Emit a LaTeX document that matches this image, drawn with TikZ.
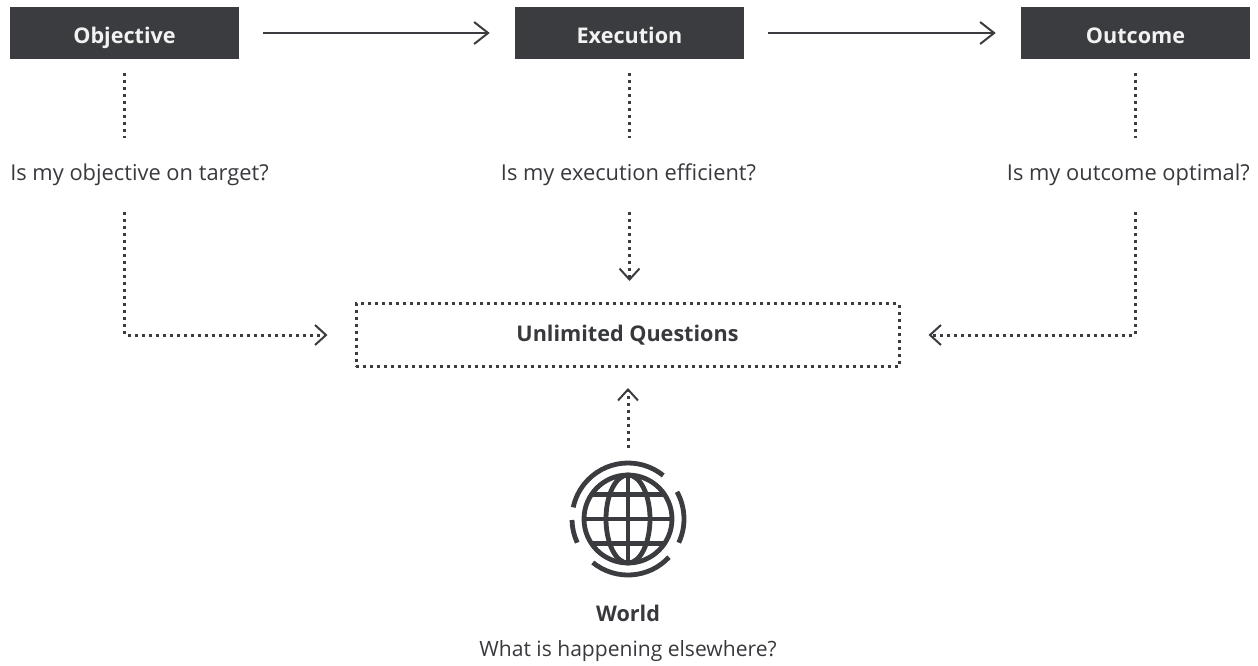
\documentclass[tikz,border=0pt]{standalone}
\usepackage{fontspec}
\setmainfont{Open Sans}
\usetikzlibrary{arrows.meta}
\definecolor{dk}{HTML}{3B3C40}
\definecolor{tx}{HTML}{38393D}
\definecolor{lt}{HTML}{F2F2F2}
\tikzset{
  lblfont/.style={font=\fontsize{16.2pt}{19pt}\selectfont\bfseries},
  darkbox/.style={lblfont, fill=dk, text=lt, minimum width=171.75pt, minimum height=39pt, inner sep=0pt, text height=15pt, text depth=0pt},
  qtext/.style={text=tx, font=\fontsize{16.4pt}{19pt}\selectfont, inner sep=0pt, anchor=base, text height=13.5pt, text depth=4.5pt},
  dots/.style={draw=dk, line width=2.25pt, dash pattern=on 2.25pt off 3pt},
  dotarrow/.style={dots, -{Straight Barb[length=8.25pt,width=15pt,line width=1.5pt]}},
  solidarrow/.style={draw=dk, line width=1.5pt, -{Straight Barb[length=10.5pt,width=16.5pt,line width=1.5pt]}},
  globe/.style={draw=dk, line width=3.6pt},
}
\begin{document}
\begin{tikzpicture}[x=0.75pt,y=-0.75pt]
\useasboundingbox (0,0) rectangle (1258,665);
% top boxes
\node[darkbox] (obj) at (124.5,33) {Objective};
\node[darkbox] (exe) at (629.5,33) {Execution};
\node[darkbox] (out) at (1135.5,33) {Outcome};
\draw[solidarrow, shorten <=18pt, shorten >=18.75pt] (obj) -- (exe);
\draw[solidarrow, shorten <=18pt, shorten >=18.75pt] (exe) -- (out);
% questions
\node[qtext, anchor=base west] (q1) at (10,180) {Is my objective on target?};
\node[qtext] (q2) at (628.5,180) {Is my execution efficient?};
\node[qtext, anchor=base east] (q3) at (1250,180) {Is my outcome optimal?};
\draw[dots, shorten <=10.5pt, shorten >=18pt] (obj.south) -- (obj.south |- q1.north);
\draw[dots, shorten <=10.5pt, shorten >=18pt] (exe.south) -- (exe.south |- q2.north);
\draw[dots, shorten <=10.5pt, shorten >=18pt] (out.south) -- (out.south |- q3.north);
% unlimited questions
\node[dots, lblfont, text=tx, minimum width=407.25pt, minimum height=47.25pt, inner sep=0pt] (uq) at (627.5,335) {Unlimited Questions};
\draw[dotarrow, shorten <=19.5pt, shorten >=20.25pt] (obj.south |- q1.south) |- (uq.west);
\draw[dotarrow, shorten <=19.5pt, shorten >=15.75pt] (exe.south |- q2.south) -- (exe.south |- uq.north);
\draw[dotarrow, shorten <=19.5pt, shorten >=21pt] (out.south |- q3.south) |- (uq.east);
% globe
\coordinate (gc) at (628,519);
\begin{scope}[shift={(gc)}, yscale=-1]
  \draw[globe] (0,0) circle[radius=44];
  \draw[globe] (0,0) ellipse[x radius=22, y radius=44];
  \draw[globe] (0,44) -- (0,-44);
  \draw[globe] (-44,0) -- (44,0);
  \draw[globe] (-36.7,24.2) -- (36.7,24.2);
  \draw[globe] (-36.7,-24.2) -- (36.7,-24.2);
  \draw[globe] (51:56) arc[start angle=51, end angle=168, radius=56];
  \draw[globe] (-25:56) arc[start angle=-25, end angle=29, radius=56];
  \draw[globe] (231:56) arc[start angle=231, end angle=317, radius=56];
  \draw[globe] (181:56) arc[start angle=181, end angle=205, radius=56];
\end{scope}
\node[inner sep=0pt, minimum size=112pt] (world) at (gc) {};
\draw[dotarrow, shorten <=-3pt, shorten >=15pt] (world.north) -- (world.north |- uq.south);
\node[qtext, lblfont] (wl) at (628,621) {World};
\node[qtext, font=\fontsize{15.8pt}{19pt}\selectfont] (wq) at (628,656) {What is happening elsewhere?};
\end{tikzpicture}
\end{document}
